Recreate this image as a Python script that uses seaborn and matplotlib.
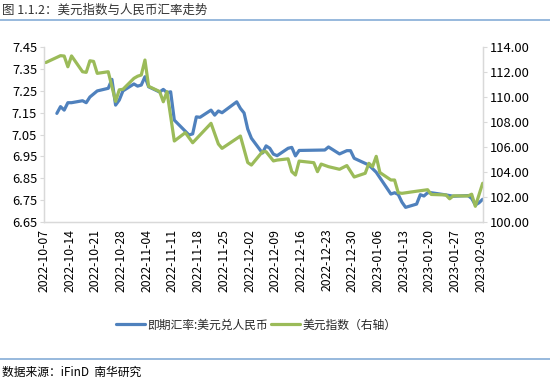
import pandas as pd
import matplotlib
matplotlib.use("Agg")
import matplotlib.pyplot as plt
import matplotlib.dates as mdates
import seaborn as sns

# --- data ---
cny_dates = [
    "2022-10-10", "2022-10-11", "2022-10-12", "2022-10-13", "2022-10-14",
    "2022-10-17", "2022-10-18", "2022-10-19", "2022-10-20", "2022-10-21",
    "2022-10-24", "2022-10-25", "2022-10-26", "2022-10-27", "2022-10-28",
    "2022-10-31", "2022-11-01", "2022-11-02", "2022-11-03", "2022-11-04",
    "2022-11-07", "2022-11-08", "2022-11-09", "2022-11-10", "2022-11-11",
    "2022-11-14", "2022-11-15", "2022-11-16", "2022-11-17", "2022-11-18",
    "2022-11-21", "2022-11-22", "2022-11-23", "2022-11-24", "2022-11-28",
    "2022-11-29", "2022-11-30", "2022-12-01", "2022-12-02", "2022-12-05",
    "2022-12-06", "2022-12-07", "2022-12-08", "2022-12-09", "2022-12-12",
    "2022-12-13", "2022-12-14", "2022-12-15", "2022-12-22", "2022-12-23",
    "2022-12-26", "2022-12-28", "2022-12-29", "2022-12-30", "2023-01-03",
    "2023-01-05", "2023-01-06", "2023-01-09", "2023-01-10", "2023-01-11",
    "2023-01-12", "2023-01-13", "2023-01-16", "2023-01-17", "2023-01-18",
    "2023-01-19", "2023-01-20", "2023-01-24", "2023-01-26", "2023-01-30",
    "2023-01-31", "2023-02-01", "2023-02-02", "2023-02-03",
]
cny_values = [
    7.147, 7.178, 7.162, 7.196, 7.196,
    7.205, 7.196, 7.222, 7.236, 7.250,
    7.262, 7.303, 7.185, 7.208, 7.250,
    7.282, 7.272, 7.277, 7.315, 7.269,
    7.245, 7.257, 7.242, 7.246, 7.116,
    7.065, 7.048, 7.053, 7.131, 7.129,
    7.162, 7.139, 7.158, 7.150, 7.200,
    7.170, 7.149, 7.075, 7.033, 6.965,
    6.998, 6.987, 6.960, 6.953, 6.987,
    6.991, 6.952, 6.977, 6.979, 6.993,
    6.961, 6.976, 6.976, 6.941, 6.910,
    6.877, 6.852, 6.777, 6.783, 6.775,
    6.740, 6.716, 6.731, 6.774, 6.768,
    6.783, 6.783, 6.773, 6.767, 6.770,
    6.757, 6.727, 6.737, 6.753,
]

dxy_dates = [
    "2022-10-07", "2022-10-11", "2022-10-12", "2022-10-13", "2022-10-14",
    "2022-10-17", "2022-10-18", "2022-10-19", "2022-10-20", "2022-10-21",
    "2022-10-24", "2022-10-26", "2022-10-27", "2022-10-28", "2022-10-31",
    "2022-11-01", "2022-11-02", "2022-11-03", "2022-11-04", "2022-11-07",
    "2022-11-08", "2022-11-09", "2022-11-11", "2022-11-14", "2022-11-16",
    "2022-11-21", "2022-11-23", "2022-11-24", "2022-11-29", "2022-12-01",
    "2022-12-02", "2022-12-05", "2022-12-06", "2022-12-08", "2022-12-09",
    "2022-12-12", "2022-12-13", "2022-12-14", "2022-12-15", "2022-12-19",
    "2022-12-20", "2022-12-21", "2022-12-23", "2022-12-26", "2022-12-28",
    "2022-12-30", "2023-01-02", "2023-01-03", "2023-01-04", "2023-01-05",
    "2023-01-06", "2023-01-09", "2023-01-10", "2023-01-11", "2023-01-12",
    "2023-01-16", "2023-01-19", "2023-01-20", "2023-01-24", "2023-01-25",
    "2023-01-26", "2023-01-30", "2023-01-31", "2023-02-01", "2023-02-03",
]
dxy_values = [
    112.78, 113.33, 113.30, 112.44, 113.31,
    112.04, 111.99, 112.92, 112.87, 111.91,
    112.04, 109.66, 110.59, 110.63, 111.51,
    111.68, 111.78, 112.98, 110.87, 110.45,
    109.63, 110.44, 106.48, 107.15, 106.34,
    107.90, 106.24, 105.89, 106.88, 104.75,
    104.55, 105.62, 105.62, 104.88, 104.95,
    105.05, 104.02, 103.75, 104.87, 104.74,
    104.02, 104.63, 104.42, 104.21, 104.51,
    103.59, 103.89, 104.69, 104.42, 105.25,
    103.95, 103.35, 103.35, 102.33, 102.28,
    102.45, 102.57, 102.19, 102.15, 101.84,
    102.08, 102.07, 102.21, 101.24, 103.09,
]

left_ticks = [6.65, 6.75, 6.85, 6.95, 7.05, 7.15, 7.25, 7.35, 7.45]
right_ticks = [100, 102, 104, 106, 108, 110, 112, 114]

cny_label = "即期汇率:美元兑人民币"
dxy_label = "美元指数（右轴）"
title_text = "图 1.1.2：美元指数与人民币汇率走势"
source_text = "数据来源：iFinD  南华研究"

blue = "#4F81BD"
green = "#9BBB59"
axis_grey = "#D9D9D9"
rule_blue = "#7BA5D3"

# points sit in the middle of each day, like the Excel date axis
half_day = pd.Timedelta(hours=12)
cny = pd.DataFrame({"date": pd.to_datetime(cny_dates) + half_day, "value": cny_values})
dxy = pd.DataFrame({"date": pd.to_datetime(dxy_dates) + half_day, "value": dxy_values})

sns.set_style("white")
plt.rcParams["font.family"] = ["Noto Sans CJK SC", "DejaVu Sans"]

fig = plt.figure(figsize=(5.5, 3.81), dpi=100)
ax = fig.add_axes([0.08, 0.418, 0.7976, 0.4578])
ax2 = ax.twinx()

sns.lineplot(data=cny, x="date", y="value", ax=ax, color=blue, linewidth=2.3, label=cny_label, legend=False)
sns.lineplot(data=dxy, x="date", y="value", ax=ax2, color=green, linewidth=2.3, label=dxy_label, legend=False)

ax.set_xlim(pd.Timestamp("2022-10-07"), pd.Timestamp("2023-02-03 12:00"))
ax.set_ylim(6.65, 7.45)
ax2.set_ylim(100, 114)
ax.set_yticks(left_ticks)
ax.set_yticklabels([f"{v:.2f}" for v in left_ticks])
ax2.set_yticks(right_ticks)
ax2.set_yticklabels([f"{v:.2f}" for v in right_ticks])

ticks = pd.date_range("2022-10-07", "2023-02-03", freq="7D")
ax.set_xticks(ticks)
ax.xaxis.set_major_formatter(mdates.DateFormatter("%Y-%m-%d"))
for lbl in ax.get_xticklabels():
    lbl.set_rotation(90)

for a in (ax, ax2):
    a.set_xlabel("")
    a.set_ylabel("")
    a.grid(False)
    for s in a.spines.values():
        s.set_color(axis_grey)
        s.set_linewidth(0.9)
    a.spines["top"].set_visible(False)
    a.tick_params(axis="both", length=3, width=0.8, color=axis_grey,
                  labelsize=9.3, labelcolor="#000000", pad=2)
ax.tick_params(axis="x", labelsize=8.8, pad=2)

handles = ax.get_lines()[:1] + ax2.get_lines()[:1]
fig.legend(handles, [cny_label, dxy_label], loc="center", bbox_to_anchor=(0.466, 0.147),
           ncol=2, frameon=False, fontsize=8.5, handlelength=2.4,
           handletextpad=0.2, columnspacing=0.3)

fig.text(0.004, 0.973, title_text, fontsize=9, color="#333333", va="center", ha="left")
fig.add_artist(plt.Line2D([0, 1], [0.947, 0.947], color=rule_blue, linewidth=1.1, transform=fig.transFigure))
fig.add_artist(plt.Line2D([0, 1], [0.058, 0.058], color=rule_blue, linewidth=1.1, transform=fig.transFigure))
fig.text(0.004, 0.022, source_text, fontsize=8.5, color="#000000", va="center", ha="left")

fig.savefig("out.png", dpi=100)
